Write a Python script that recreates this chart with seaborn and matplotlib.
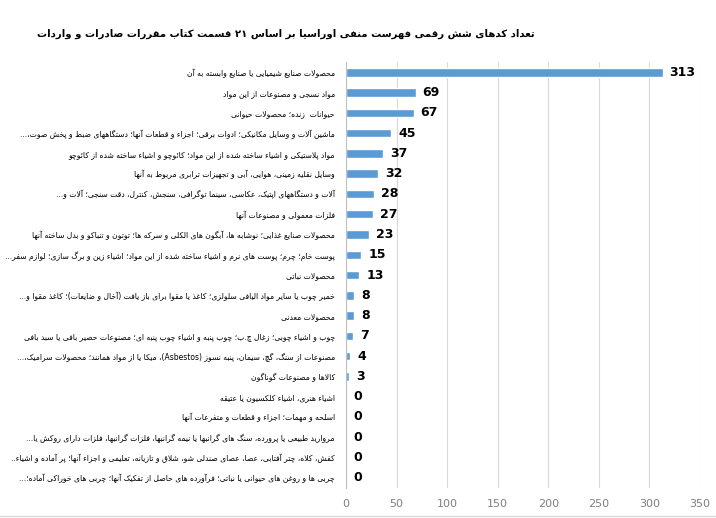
import re
import pandas as pd
import matplotlib
matplotlib.use("Agg")
import matplotlib.pyplot as plt
import seaborn as sns
from matplotlib.lines import Line2D

# ---------------------------------------------------------------
# data (top to bottom as in the chart)
# ---------------------------------------------------------------
title = "تعداد کدهای شش رقمی فهرست منفی اوراسیا بر اساس ۲۱ قسمت کتاب مقررات صادرات و واردات"

labels = [
    "محصولات صنایع شیمیایی یا صنایع وابسته به آن",
    "مواد نسجی و مصنوعات از این مواد",
    "حیوانات  زنده؛ محصولات حیوانی",
    "ماشین آلات و وسایل مکانیکی؛ ادوات برقی؛ اجزاء و قطعات آنها؛ دستگاههای ضبط و پخش صوت،...",
    "مواد پلاستیکی و اشیاء ساخته شده از این مواد؛ کائوچو و اشیاء ساخته شده از کائوچو",
    "وسایل نقلیه زمینی، هوایی، آبی و تجهیزات ترابری مربوط به آنها",
    "آلات و دستگاههای اپتیک، عکاسی، سینما توگرافی، سنجش، کنترل، دقت سنجی؛ آلات و...",
    "فلزات معمولی و مصنوعات آنها",
    "محصولات صنایع غذایی؛ نوشابه ها، آبگون های الکلی و سرکه ها؛ توتون و تنباکو و بدل ساخته آنها",
    "پوست خام؛ چرم؛ پوست های نرم و اشیاء ساخته شده از این مواد؛ اشیاء زین و برگ سازی؛ لوازم سفر...",
    "محصولات نباتی",
    "خمیر چوب یا سایر مواد الیافی سلولزی؛ کاغذ یا مقوا برای باز یافت (آخال و ضایعات)؛ کاغذ مقوا و...",
    "محصولات معدنی",
    "چوب و اشیاء چوبی؛ زغال چ.ب؛ چوب پنبه و اشیاء چوب پنبه ای؛ مصنوعات حصیر بافی یا سبد بافی",
    "مصنوعات از سنگ، گچ، سیمان، پنبه نسوز (Asbestos)، میکا یا از مواد همانند؛ محصولات سرامیک،...",
    "کالاها و مصنوعات گوناگون",
    "اشیاء هنری، اشیاء کلکسیون یا عتیقه",
    "اسلحه و مهمات؛ اجزاء و قطعات و متفرعات آنها",
    "مروارید طبیعی یا پرورده، سنگ های گرانبها یا نیمه گرانبها، فلزات گرانبها، فلزات دارای روکش یا...",
    "کفش، کلاه، چتر آفتابی، عصا، عصای صندلی شو، شلاق و تازیانه، تعلیمی و اجزاء آنها؛ پر آماده و اشیاء..",
    "چربی ها و روغن های حیوانی یا نباتی؛ فرآورده های حاصل از تفکیک آنها؛ چربی های خوراکی آماده؛...",
]

counts = [313, 69, 67, 45, 37, 32, 28, 27, 23, 15, 13, 8, 8, 7, 4, 3, 0, 0, 0, 0, 0]

x_ticks = [0, 50, 100, 150, 200, 250, 300, 350]


# ---------------------------------------------------------------
# small persian shaper (matplotlib has no arabic shaping / bidi)
# ---------------------------------------------------------------
def four(b):
    return tuple(chr(b + i) for i in range(4))


def two(b):
    return (chr(b), chr(b + 1))


FORMS = {
    "\u0621": ("\uFE80",),
    "\u0622": two(0xFE81), "\u0623": two(0xFE83), "\u0624": two(0xFE85),
    "\u0625": two(0xFE87), "\u0626": four(0xFE89), "\u0627": two(0xFE8D),
    "\u0628": four(0xFE8F), "\u0629": two(0xFE93), "\u062A": four(0xFE95),
    "\u062B": four(0xFE99), "\u062C": four(0xFE9D), "\u062D": four(0xFEA1),
    "\u062E": four(0xFEA5), "\u062F": two(0xFEA9), "\u0630": two(0xFEAB),
    "\u0631": two(0xFEAD), "\u0632": two(0xFEAF), "\u0633": four(0xFEB1),
    "\u0634": four(0xFEB5), "\u0635": four(0xFEB9), "\u0636": four(0xFEBD),
    "\u0637": four(0xFEC1), "\u0638": four(0xFEC5), "\u0639": four(0xFEC9),
    "\u063A": four(0xFECD), "\u0641": four(0xFED1), "\u0642": four(0xFED5),
    "\u0643": four(0xFED9), "\u0644": four(0xFEDD), "\u0645": four(0xFEE1),
    "\u0646": four(0xFEE5), "\u0647": four(0xFEE9), "\u0648": two(0xFEED),
    "\u0649": two(0xFEEF), "\u064A": four(0xFEF1),
    "\u067E": four(0xFB56), "\u0686": four(0xFB7A), "\u0698": two(0xFB8A),
    "\u06A9": four(0xFB8E), "\u06AF": four(0xFB92), "\u06CC": four(0xFBFC),
}
LAMALEF = {"\u0622": two(0xFEF5), "\u0623": two(0xFEF7),
           "\u0625": two(0xFEF9), "\u0627": two(0xFEFB)}
MIRROR = str.maketrans("()[]", ")(][")
LTR = r"[A-Za-z0-9\u06F0-\u06F9\u0660-\u0669]+"


def shape(s):
    out = []
    i, n = 0, len(s)
    while i < n:
        c = s[i]
        if c not in FORMS:
            out.append(c)
            i += 1
            continue
        prev = s[i - 1] if i > 0 else ""
        join_prev = prev in FORMS and len(FORMS[prev]) == 4
        if c == "\u0644" and i + 1 < n and s[i + 1] in LAMALEF:
            iso, fin = LAMALEF[s[i + 1]]
            out.append(fin if join_prev else iso)
            i += 2
            continue
        f = FORMS[c]
        nxt = s[i + 1] if i + 1 < n else ""
        join_next = len(f) == 4 and nxt in FORMS and len(FORMS[nxt]) > 1
        if len(f) == 1:
            g = f[0]
        elif join_prev and join_next:
            g = f[3]
        elif join_prev:
            g = f[1]
        elif join_next:
            g = f[2]
        else:
            g = f[0]
        out.append(g)
        i += 1
    return "".join(out).replace("\u200c", "")


def rtl(s):
    parts = re.findall(LTR + "|[^A-Za-z0-9\u06F0-\u06F9\u0660-\u0669]+", shape(s))
    res = []
    for p in reversed(parts):
        if re.fullmatch(LTR, p):
            res.append(p)
        else:
            res.append(p[::-1].translate(MIRROR))
    return "".join(res)


# ---------------------------------------------------------------
# plot
# ---------------------------------------------------------------
sns.set_style("whitegrid")
plt.rcParams["font.family"] = ["DejaVu Sans"]

df = pd.DataFrame({"label": [rtl(t) for t in labels], "count": counts})

fig, ax = plt.subplots(figsize=(7.16, 5.18), dpi=100)
fig.subplots_adjust(left=0.4832, right=0.9777, top=0.880, bottom=0.058)

sns.barplot(data=df, x="count", y="label", orient="h", color="#5B9BD5",
            saturation=1, width=0.42, ax=ax)

ax.set_xlim(0, 350)
ax.set_xticks(x_ticks)
ax.set_xlabel("")
ax.set_ylabel("")
ax.grid(axis="x", color="#D9D9D9", linewidth=0.8)
ax.grid(axis="y", visible=False)
for side in ["top", "right", "bottom"]:
    ax.spines[side].set_visible(False)
ax.spines["left"].set_color("#BFBFBF")
ax.spines["left"].set_linewidth(0.8)

ax.tick_params(axis="y", length=0, pad=8, labelsize=6, labelcolor="black")
ax.tick_params(axis="x", length=0, pad=8, labelsize=8, labelcolor="#7F7F7F")

for cont in ax.containers:
    ax.bar_label(cont, fmt="%d", padding=5, fontsize=9, fontweight="bold",
                 color="black")

title_txt = fig.text(0.747, 0.935, rtl(title), ha="right", va="center",
                     fontsize=10, fontweight="bold", color="black")

# chart-area border line at the bottom, as in the source
fig.add_artist(Line2D([0, 1], [0.004, 0.004], transform=fig.transFigure,
                      color="#D9D9D9", linewidth=1))

# shrink the category labels / title so that the longest one fits
# the room it has in the original (dejavu is wider than the source font)
fig.canvas.draw()
rend = fig.canvas.get_renderer()
ylabs = ax.get_yticklabels()
widest = max(t.get_window_extent(rend).width for t in ylabs)
new_size = 6 * 334 / widest
for t in ylabs:
    t.set_fontsize(new_size)
tw = title_txt.get_window_extent(rend).width
title_txt.set_fontsize(10 * 500 / tw)

fig.savefig("out.png", dpi=100)
